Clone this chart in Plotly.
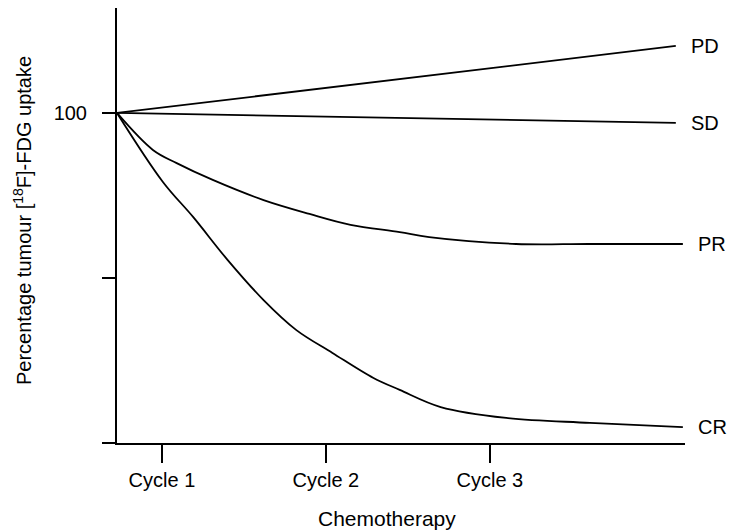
import plotly.graph_objects as go

# Data (x in chemotherapy cycle units, y = percentage tumour uptake)
pd_x = [0.726, 4.134]
pd_y = [100, 120.3]
sd_x = [0.726, 4.134]
sd_y = [100, 97.0]
pr_x = [0.726, 0.945, 1.09, 1.31, 1.62, 1.90, 2.15, 2.45, 2.63, 3.16, 3.60, 4.177]
pr_y = [100, 88.8, 84.8, 79.7, 73.6, 69.4, 66.1, 63.9, 62.4, 60.3, 60.3, 60.3]
cr_x = [0.726, 1.006, 1.19, 1.40, 1.62, 1.82, 2.04, 2.29, 2.45, 2.70, 3.10, 3.61, 4.177]
cr_y = [100, 79.1, 68.5, 55.5, 43.3, 34.2, 27.3, 19.7, 16.1, 10.9, 7.6, 6.1, 4.8]

series = [("PD", pd_x, pd_y), ("SD", sd_x, sd_y), ("PR", pr_x, pr_y), ("CR", cr_x, cr_y)]

x_tickvals = [1, 2, 3]
x_ticktext = ["Cycle 1", "Cycle 2", "Cycle 3"]
y_tickvals = [100]
y_ticktext = ["100"]
y_minor_step = 50

FONT = "Liberation Sans, Arial, sans-serif"

fig = go.Figure()
for name, xs, ys in series:
    fig.add_trace(go.Scatter(
        x=xs, y=ys, mode="lines", name=name,
        line=dict(color="black", width=1.8, shape="spline", smoothing=1.0),
        cliponaxis=False, showlegend=False,
    ))
    fig.add_annotation(
        x=xs[-1], y=ys[-1], xref="x", yref="y", text=name, showarrow=False,
        xanchor="left", yanchor="middle", xshift=13,
        font=dict(family=FONT, size=20, color="black"),
    )

fig.update_layout(
    width=730, height=532,
    margin=dict(l=117, r=45, t=8, b=89),
    paper_bgcolor="white", plot_bgcolor="white",
    font=dict(family=FONT, size=20, color="black"),
    xaxis=dict(
        range=[0.726, 4.19], showgrid=False, zeroline=False,
        showline=True, linecolor="black", linewidth=2,
        tickmode="array", tickvals=x_tickvals, ticktext=x_ticktext,
        ticks="outside", ticklen=18, tickwidth=1.5, tickcolor="black",
        tickfont=dict(family=FONT, size=20),
    ),
    yaxis=dict(
        range=[0, 131.8], showgrid=False, zeroline=False,
        showline=True, linecolor="black", linewidth=2,
        tickmode="array", tickvals=y_tickvals, ticktext=y_ticktext,
        ticks="outside", ticklen=13, tickwidth=1.5, tickcolor="black",
        ticklabelstandoff=11,
        tickfont=dict(family=FONT, size=20),
        minor=dict(ticks="outside", ticklen=13, tickwidth=1.5, tickcolor="black",
                   tick0=0, dtick=y_minor_step, showgrid=False),
    ),
)

fig.add_annotation(
    text="Chemotherapy", xref="paper", yref="paper",
    x=(387 - 117) / 568, y=-(518 - 443) / 435, showarrow=False,
    xanchor="center", yanchor="middle",
    font=dict(family=FONT, size=21, color="black"),
)
fig.add_annotation(
    text="Percentage tumour [<sup>18</sup>F]-FDG uptake", xref="paper", yref="paper",
    x=(22 - 117) / 568, y=(443 - 221) / 435, showarrow=False, textangle=-90,
    xanchor="center", yanchor="middle",
    font=dict(family=FONT, size=20, color="black"),
)

fig.write_html("out.html")
